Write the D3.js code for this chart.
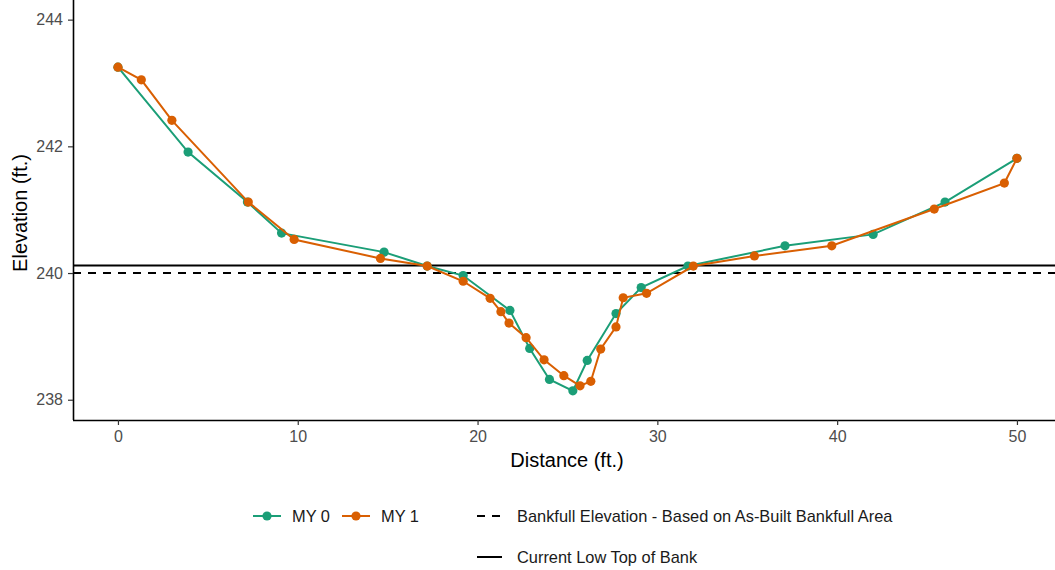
<!DOCTYPE html>
<html><head><meta charset="utf-8">
<script src="https://cdn.jsdelivr.net/npm/d3@7"></script>
<style>body{margin:0;background:#fff;}svg{display:block;font-family:"Liberation Sans",Arial,sans-serif;}</style>
</head><body><svg id="c" width="1055" height="570"></svg>
<script>
const my0Dist = [0, 3.9, 7.2, 9.1, 14.8, 17.2, 19.2, 21.8, 22.9, 24.0, 25.3, 26.1, 27.7, 29.1, 31.7, 37.1, 42.0, 46.0, 50.0];
const my0Elev = [243.25, 241.91, 241.12, 240.63, 240.33, 240.11, 239.96, 239.41, 238.81, 238.32, 238.14, 238.62, 239.36, 239.77, 240.11, 240.43, 240.61, 241.12, 241.81];
const my1Dist = [0, 1.3, 3.0, 7.25, 9.8, 14.6, 17.2, 19.2, 20.7, 21.3, 21.75, 22.7, 23.7, 24.8, 25.7, 26.3, 26.85, 27.7, 28.1, 29.4, 32.0, 35.4, 39.7, 45.4, 49.3, 50.0];
const my1Elev = [243.25, 243.05, 242.41, 241.12, 240.53, 240.23, 240.11, 239.87, 239.60, 239.39, 239.21, 238.98, 238.63, 238.38, 238.22, 238.29, 238.80, 239.15, 239.61, 239.68, 240.11, 240.27, 240.43, 241.01, 241.42, 241.81];
const bankfullElev = 240.0;
const topOfBankElev = 240.12;
const xTicks = [0, 10, 20, 30, 40, 50];
const yTicks = [238, 240, 242, 244];
const seriesNames = ["MY 0", "MY 1"];
const seriesColors = ["#1b9e77", "#d95f02"];

const svg = d3.select("#c");
const left = 73, bottom = 420;
const x = d3.scaleLinear().domain([-2.5, 52.5]).range([left, left + 55 * 17.98]);
const y = d3.scaleLinear().domain([237.68, 244.31]).range([bottom, 0]);

// reference lines
svg.append("line").attr("x1", left).attr("x2", 1055)
  .attr("y1", y(topOfBankElev)).attr("y2", y(topOfBankElev))
  .attr("stroke", "#000").attr("stroke-width", 2);
svg.append("line").attr("x1", left).attr("x2", 1055)
  .attr("y1", y(bankfullElev)).attr("y2", y(bankfullElev))
  .attr("stroke", "#000").attr("stroke-width", 2).attr("stroke-dasharray", "8,7");

const series = [
  {name: seriesNames[0], color: seriesColors[0], pts: my0Dist.map((d, i) => [d, my0Elev[i]])},
  {name: seriesNames[1], color: seriesColors[1], pts: my1Dist.map((d, i) => [d, my1Elev[i]])}
];
const line = d3.line().x(d => x(d[0])).y(d => y(d[1]));
series.forEach(s => {
  svg.append("path").attr("d", line(s.pts)).attr("fill", "none")
    .attr("stroke", s.color).attr("stroke-width", 2);
  svg.selectAll(null).data(s.pts).enter().append("circle")
    .attr("cx", d => x(d[0])).attr("cy", d => y(d[1])).attr("r", 4.6)
    .attr("fill", s.color);
});

// axes
const xAxis = svg.append("g").attr("transform", `translate(0,${bottom})`)
  .call(d3.axisBottom(x).tickValues(xTicks).tickFormat(d3.format("d")).tickSize(5).tickPadding(6).tickSizeOuter(0));
const yAxis = svg.append("g").attr("transform", `translate(${left},0)`)
  .call(d3.axisLeft(y).tickValues(yTicks).tickFormat(d3.format("d")).tickSize(5).tickPadding(5).tickSizeOuter(0));
[xAxis, yAxis].forEach(g => {
  g.select(".domain").attr("stroke", "#000").attr("stroke-width", 1.6);
  g.selectAll(".tick line").attr("stroke", "#333").attr("stroke-width", 1.2);
  g.selectAll(".tick text").attr("fill", "#4d4d4d").style("font-size", "16px")
    .style("font-family", '"Liberation Sans",Arial,sans-serif');
});
xAxis.select(".domain").attr("d", `M${left},0.5H1055`);
yAxis.select(".domain").attr("d", `M0.5,0V${bottom}`);

svg.append("text").attr("x", 567).attr("y", 467).attr("text-anchor", "middle")
  .style("font-size", "20px").attr("fill", "#000").text("Distance (ft.)");
svg.append("text").attr("transform", "translate(27,213) rotate(-90)").attr("text-anchor", "middle")
  .style("font-size", "20px").attr("fill", "#000").text("Elevation (ft.)");

// legend
const lg = svg.append("g").style("font-size", "16.4px");
const keyX = [253, 342];
series.forEach((s, i) => {
  lg.append("line").attr("x1", keyX[i]).attr("x2", keyX[i] + 28).attr("y1", 516).attr("y2", 516)
    .attr("stroke", s.color).attr("stroke-width", 2);
  lg.append("circle").attr("cx", keyX[i] + 14).attr("cy", 516).attr("r", 4.6).attr("fill", s.color);
  lg.append("text").attr("x", keyX[i] + 39).attr("y", 522).attr("fill", "#1a1a1a").text(s.name);
});
lg.append("line").attr("x1", 477).attr("x2", 502).attr("y1", 516).attr("y2", 516)
  .attr("stroke", "#000").attr("stroke-width", 2).attr("stroke-dasharray", "8,7");
lg.append("text").attr("x", 517).attr("y", 522).attr("fill", "#1a1a1a").text("Bankfull Elevation - Based on As-Built Bankfull Area");
lg.append("line").attr("x1", 477).attr("x2", 502).attr("y1", 557).attr("y2", 557)
  .attr("stroke", "#000").attr("stroke-width", 2);
lg.append("text").attr("x", 517).attr("y", 563).attr("fill", "#1a1a1a").text("Current Low Top of Bank");
</script></body></html>
